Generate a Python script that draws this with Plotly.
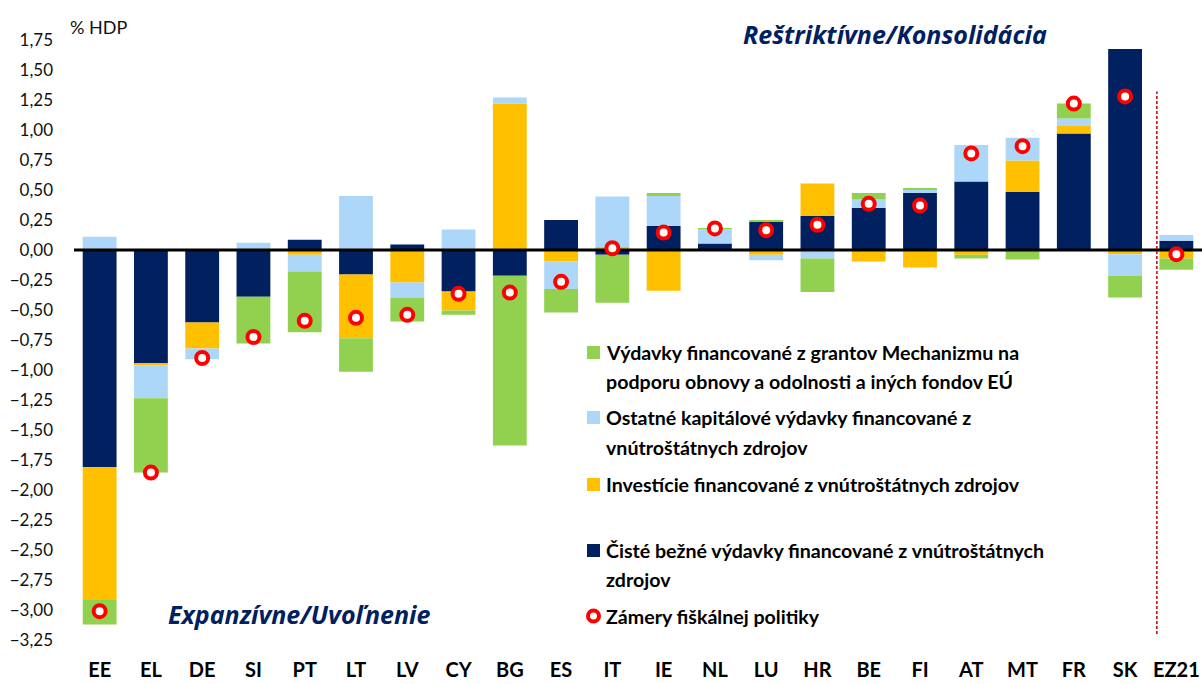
import plotly.graph_objects as go

# Fiscal stance decomposition, % of GDP
countries = ["EE", "EL", "DE", "SI", "PT", "LT", "LV", "CY", "BG", "ES", "IT",
             "IE", "NL", "LU", "HR", "BE", "FI", "AT", "MT", "FR", "SK", "EZ21"]

net_current = [-1.81, -0.945, -0.605, -0.39, 0.085, -0.205, 0.045, -0.345, -0.215, 0.25, -0.04,
               0.20, 0.055, 0.235, 0.285, 0.35, 0.475, 0.57, 0.485, 0.97, 1.675, 0.077]
investment = [-1.10, -0.015, -0.215, 0.0, -0.04, -0.53, -0.27, -0.16, 1.22, -0.095, 0.025,
              -0.34, 0.0, -0.04, 0.27, -0.095, -0.145, -0.04, 0.26, 0.07, -0.035, -0.07]
other_capital = [0.11, -0.275, -0.09, 0.06, -0.14, 0.45, -0.13, 0.17, 0.05, -0.23, 0.42,
                 0.25, 0.12, -0.045, -0.07, 0.07, 0.025, 0.305, 0.19, 0.055, -0.18, 0.048]
eu_funded = [-0.21, -0.62, 0.0, -0.39, -0.505, -0.28, -0.195, -0.035, -1.415, -0.195, -0.40,
             0.025, 0.008, 0.01, -0.28, 0.055, 0.012, -0.03, -0.08, 0.125, -0.18, -0.095]
stance = [-3.01, -1.855, -0.90, -0.725, -0.59, -0.565, -0.54, -0.365, -0.355, -0.265, 0.015,
          0.145, 0.18, 0.165, 0.21, 0.385, 0.37, 0.805, 0.865, 1.22, 1.28, -0.035]

y_ticks = [1.75 - 0.25 * i for i in range(21)]

NAVY = "#002060"
YELLOW = "#FFC000"
LIGHTBLUE = "#ADD7F8"
GREEN = "#92D050"
RED = "#FF0000"
FONT = "Lato"

# stacking order (closest to zero first), legend order is separate
stack = [
    ("Čisté bežné výdavky financované z vnútroštátnych<br>zdrojov", net_current, NAVY),
    ("Investície financované z vnútroštátnych zdrojov", investment, YELLOW),
    ("Ostatné kapitálové výdavky financované z<br>vnútroštátnych zdrojov", other_capital, LIGHTBLUE),
    ("Výdavky financované z grantov Mechanizmu na<br>podporu obnovy a odolnosti a iných fondov EÚ", eu_funded, GREEN),
]
marker_name = "Zámery fiškálnej politiky"

xs = list(range(len(countries)))

fig = go.Figure()
for name, vals, col in stack:
    fig.add_trace(go.Bar(x=xs, y=vals, name=name.replace("<br>", " "),
                         marker=dict(color=col, line=dict(width=0)),
                         showlegend=False))

# horizontal axis line at zero, drawn above the bars but under the markers
fig.add_trace(go.Scatter(x=[-0.5, len(countries) - 0.5], y=[0, 0], mode="lines",
                         line=dict(color="black", width=3), hoverinfo="skip",
                         showlegend=False))

fig.add_trace(go.Scatter(x=xs, y=stance, mode="markers", name=marker_name,
                         marker=dict(symbol="circle", size=12, color="white",
                                     line=dict(color=RED, width=4)),
                         showlegend=False))

# plot area in pixels
L, T, W, H = 74, 40, 1128, 600


def px(x):
    return (x - L) / W


def py(y):
    return (T + H - y) / H


shapes = [
    dict(type="line", xref="x", yref="y", x0=len(countries) - 1.38, x1=len(countries) - 1.38,
         y0=-3.2, y1=1.32, line=dict(color="#C00000", width=1.5, dash="3px,2px")),
]
annotations = [
    dict(text="% HDP", xref="paper", yref="paper", x=px(68), y=py(27), xanchor="left",
         yanchor="middle", showarrow=False, font=dict(family=FONT, size=18, color="#111111")),
    dict(text="<b><i>Reštriktívne/Konsolidácia</i></b>", xref="paper", yref="paper",
         x=px(895), y=py(34), xanchor="center", yanchor="middle", showarrow=False,
         font=dict(family="Open Sans", size=25, color=NAVY)),
    dict(text="<b><i>Expanzívne/Uvoľnenie</i></b>", xref="paper", yref="paper",
         x=px(299), y=py(614), xanchor="center", yanchor="middle", showarrow=False,
         font=dict(family="Open Sans", size=25, color=NAVY)),
]

# hand-placed legend (Excel style: symbol at first line, wrapped text)
legend_items = [
    (stack[3][0], GREEN, [352, 381]),
    (stack[2][0], LIGHTBLUE, [417, 447]),
    (stack[1][0], YELLOW, [484]),
    (stack[0][0], NAVY, [550, 579]),
    (marker_name, None, [616]),
]
for name, col, ys in legend_items:
    for line, yline in zip(name.split("<br>"), ys):
        annotations.append(dict(text="<b>" + line + "</b>", xref="paper", yref="paper",
                                x=px(604), y=py(yline), xanchor="left", yanchor="middle",
                                showarrow=False,
                                font=dict(family=FONT, size=19.6, color="black")))
    y0 = ys[0]
    if col:
        shapes.append(dict(type="rect", xref="paper", yref="paper", x0=px(587), x1=px(600),
                           y0=py(y0 + 7), y1=py(y0 - 6), fillcolor=col, line=dict(width=0)))
    else:
        shapes.append(dict(type="circle", xref="paper", yref="paper", x0=px(588), x1=px(599),
                           y0=py(y0 + 5.5), y1=py(y0 - 5.5), fillcolor="white",
                           line=dict(color=RED, width=4)))

fig.update_layout(
    width=1202, height=684,
    margin=dict(l=L, r=0, t=T, b=684 - T - H),
    barmode="relative", bargap=0.34,
    plot_bgcolor="white", paper_bgcolor="white",
    separators=", ",
    showlegend=False,
    shapes=shapes, annotations=annotations,
    xaxis=dict(range=[-0.5, len(countries) - 0.5], tickmode="array", tickvals=xs,
               ticktext=["<b>" + c + "</b>" for c in countries],
               showgrid=False, zeroline=False, showline=False, ticks="",
               ticklabelstandoff=16,
               tickfont=dict(family=FONT, size=20, color="black")),
    yaxis=dict(range=[-3.25, 1.75], tickmode="array", tickvals=y_ticks, tickformat=".2f",
               showgrid=False, zeroline=False, showline=False, ticks="",
               ticklabelstandoff=20,
               tickfont=dict(family=FONT, size=17, color="#111111")),
)

# page body margin would shift the figure by 8px
fig.write_html("out.html", config={"displayModeBar": False},
               post_script="document.body.style.margin='0';")
